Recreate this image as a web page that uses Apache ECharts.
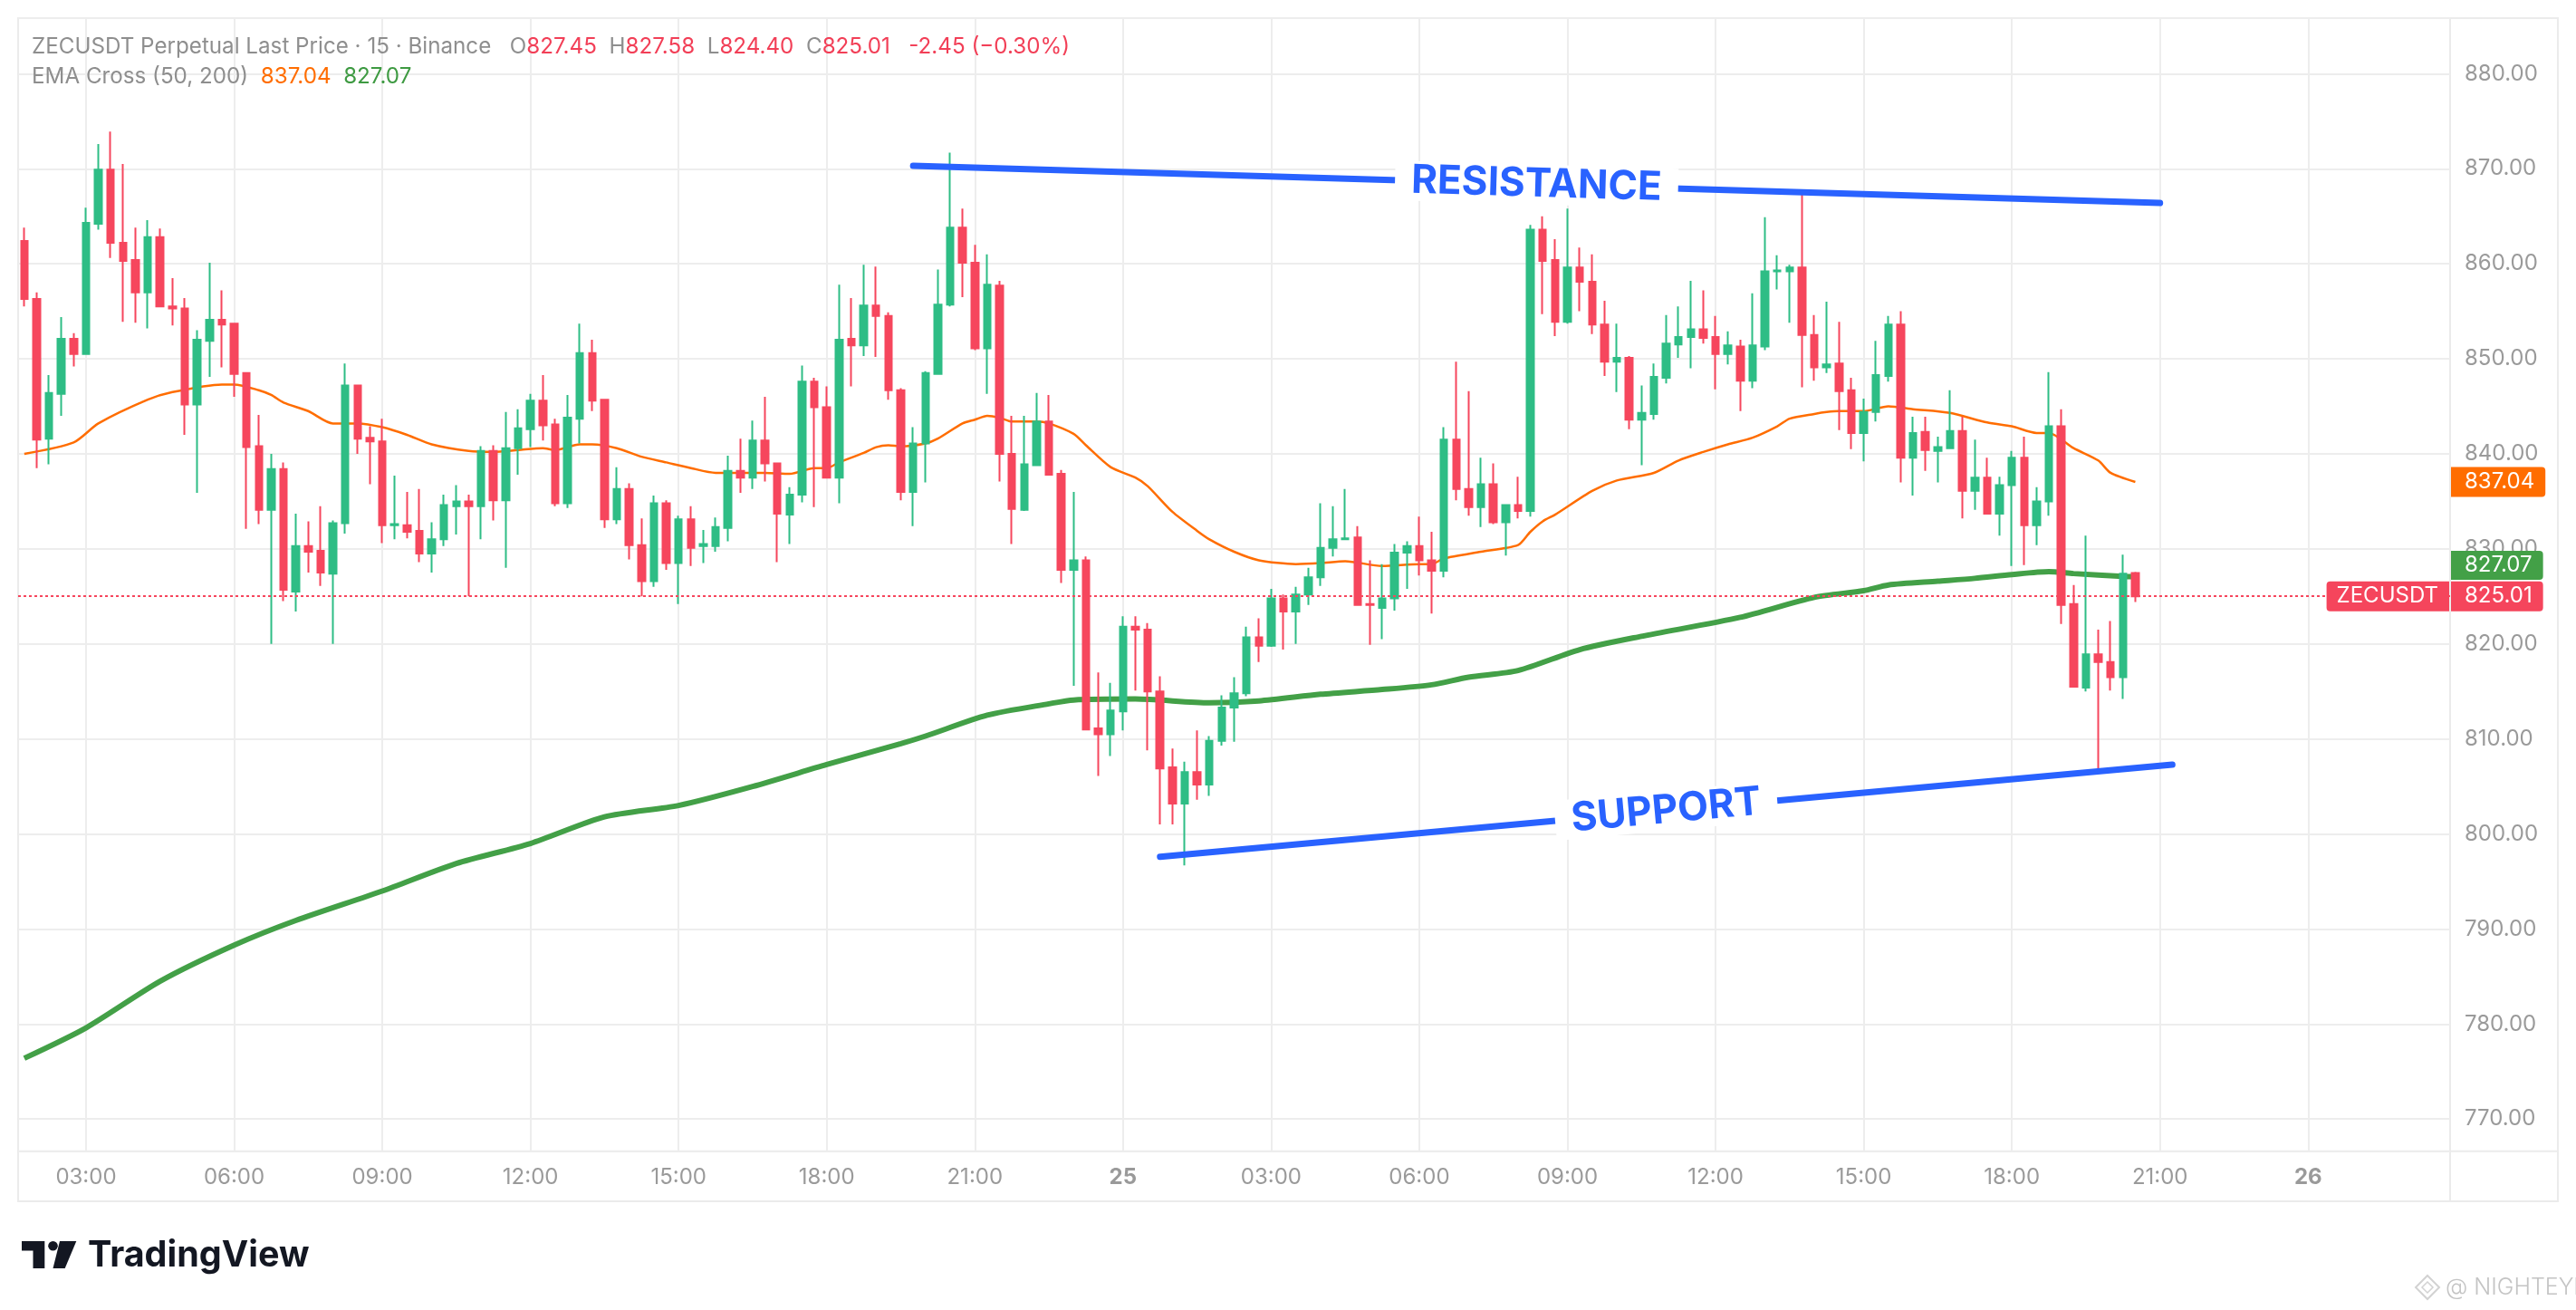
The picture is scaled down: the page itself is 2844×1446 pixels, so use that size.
<!DOCTYPE html>
<html>
<head>
<meta charset="utf-8">
<script src="https://cdn.jsdelivr.net/npm/echarts@6/dist/echarts.min.js"></script>
<style>
  html, body { margin: 0; padding: 0; background: #ffffff; }
  #chart { width: 2844px; height: 1446px; }
</style>
</head>
<body>
<div id="chart"></div>
<script>
// ---------- DATA (15-minute bars, 24 01:45 → 25 20:30) ----------
const open = [
  862.4,856.3,841.6,846.3,852.1,850.5,864.2,869.9,862.2,860.4,857.0,862.8,
  855.5,855.3,845.2,851.9,854.1,853.7,848.5,840.8,834.1,838.4,825.5,830.3,
  829.8,827.4,832.7,847.2,841.7,841.3,832.5,832.5,831.9,829.5,831.0,834.5,
  835.0,834.5,840.3,835.1,840.6,842.6,845.6,843.1,834.8,843.7,850.6,845.7,
  833.1,836.3,830.4,826.6,834.8,828.5,833.1,830.3,830.3,832.2,838.2,837.5,
  841.4,839.0,833.6,835.7,847.6,844.9,837.5,852.1,851.4,855.6,854.5,846.7,
  836.0,841.1,848.4,855.7,863.8,860.1,851.1,857.7,840.0,834.1,838.8,843.4,
  837.9,827.8,828.8,811.1,810.5,812.9,821.8,821.5,815.0,807.0,803.2,806.5,
  805.2,809.8,813.3,814.8,820.7,819.8,824.8,823.4,825.2,827.0,830.1,831.0,
  831.2,824.2,823.8,824.8,829.6,830.3,828.8,827.7,841.5,836.3,834.4,836.8,
  832.8,834.6,834.0,863.6,860.4,853.9,859.6,858.1,853.6,849.7,850.1,843.6,
  844.2,848.0,851.5,852.3,853.1,852.3,850.5,851.3,847.7,851.3,859.2,859.2,
  859.6,852.5,849.1,849.5,846.7,842.2,844.4,848.2,853.6,839.6,842.3,840.3,
  840.6,842.4,836.1,837.5,833.7,836.7,839.6,832.5,835.0,842.9,824.2,815.4,
  818.9,818.1,816.5,827.45
];
const high = [
  863.8,857.0,848.3,854.4,852.7,865.9,872.6,873.9,870.5,863.8,864.6,863.7,
  858.5,856.4,853.0,860.1,857.2,853.7,848.5,844.1,840.0,839.1,833.7,832.9,
  834.5,833.0,849.5,847.2,842.9,843.7,837.7,836.0,836.3,832.8,835.7,836.7,
  835.7,840.8,840.9,844.4,844.7,846.3,848.3,843.7,846.2,853.7,852.0,845.7,
  838.6,836.9,833.2,835.6,835.1,833.5,834.5,832.0,833.3,839.8,841.6,843.5,
  846.0,839.1,836.5,849.3,848.0,847.1,857.8,856.4,859.9,859.7,854.9,846.9,
  842.8,848.7,859.4,871.7,865.8,862.0,861.0,858.2,844.0,844.0,846.4,846.2,
  838.3,836.0,829.2,817.0,815.9,822.9,822.9,822.2,816.6,809.0,807.6,810.9,
  810.3,814.6,816.5,821.8,822.7,825.8,825.2,826.0,828.0,834.8,834.5,836.3,
  832.4,828.8,828.4,830.5,830.8,833.4,831.8,842.8,849.7,846.6,839.6,839.0,
  834.6,837.6,864.1,865.0,862.6,865.8,861.7,861.0,856.1,853.7,850.3,847.2,
  849.5,854.6,855.5,858.2,857.2,854.5,852.9,852.0,856.9,864.9,860.9,859.9,
  867.5,854.6,856.0,853.9,848.0,845.8,851.9,854.5,855.0,843.9,843.9,841.8,
  846.7,843.9,841.5,839.6,837.6,840.3,841.8,836.5,848.6,844.7,826.2,831.4,
  821.5,822.4,829.4,827.58
];
const low = [
  855.5,838.5,838.9,844.0,849.2,850.5,863.6,860.6,853.9,853.8,853.2,855.5,
  853.5,842.0,835.9,848.1,849.1,846.0,832.1,832.6,820.0,824.5,823.4,827.5,
  826.1,820.0,831.6,840.0,836.8,830.6,831.0,831.1,828.6,827.5,830.3,831.5,
  825.0,831.0,833.0,828.0,837.8,840.7,841.4,834.5,834.3,841.1,844.5,832.2,
  832.6,828.9,825.0,826.0,827.8,824.2,828.2,828.5,829.7,830.8,835.9,836.3,
  837.1,828.6,830.5,834.9,834.4,837.5,834.8,847.1,850.3,850.2,845.7,835.1,
  832.4,837.0,848.4,855.5,856.5,850.9,846.3,837.1,830.5,834.0,838.7,837.8,
  826.4,815.6,810.9,806.1,808.2,810.9,815.1,808.8,801.0,801.0,796.7,803.6,
  804.0,809.3,809.7,814.5,818.1,819.7,819.4,820.0,824.1,826.1,829.2,831.0,
  824.1,819.9,820.5,823.5,825.8,827.2,823.2,827.0,835.1,833.5,832.3,832.6,
  829.3,833.2,833.4,854.7,852.4,853.7,855.0,852.6,848.2,846.5,842.6,838.8,
  843.6,847.4,850.1,849.0,851.6,846.8,849.4,844.5,846.9,850.9,857.3,853.8,
  847.0,847.7,848.5,842.5,840.5,839.2,843.4,847.6,837.0,835.6,838.2,837.0,
  840.5,833.2,834.1,833.6,831.4,828.2,828.3,830.4,833.5,822.1,815.4,815.0,
  806.5,815.1,814.2,824.40
];
const close = [
  856.3,841.5,846.4,852.1,850.5,864.3,869.9,862.2,860.3,857.0,862.8,855.5,
  855.3,845.2,852.0,854.1,853.6,848.4,840.7,834.1,838.4,825.7,830.3,829.7,
  827.5,832.7,847.2,841.6,841.3,832.5,832.6,831.8,829.5,831.0,834.6,835.0,
  834.5,840.3,835.1,840.6,842.7,845.6,843.0,834.8,843.8,850.6,845.6,833.1,
  836.3,830.4,826.6,834.8,828.5,833.1,830.1,830.5,832.3,838.2,837.5,841.4,
  839.0,833.7,835.7,847.6,844.9,837.5,852.0,851.4,855.6,854.5,846.7,836.0,
  841.1,848.5,855.7,863.8,860.1,851.1,857.8,840.0,834.2,838.9,843.4,837.8,
  827.8,828.8,811.0,810.5,813.0,821.8,821.5,815.0,806.9,803.2,806.5,805.2,
  809.8,813.3,814.8,820.7,819.8,824.8,823.4,825.2,827.0,830.1,831.0,831.1,
  824.1,824.1,824.8,829.6,830.3,828.8,827.7,841.5,836.3,834.4,836.8,832.8,
  834.6,834.0,863.6,860.3,853.9,859.6,858.1,853.6,849.7,850.1,843.6,844.3,
  848.1,851.6,852.3,853.1,852.2,850.5,851.4,847.7,851.4,859.2,859.3,859.6,
  852.5,849.1,849.4,846.6,842.2,844.4,848.3,853.6,839.6,842.2,840.4,840.7,
  842.4,836.1,837.5,833.7,836.7,839.6,832.5,835.0,842.9,824.1,815.5,818.9,
  818.1,816.5,827.4,825.01
];

// EMA 50 (orange) read at bar indices
const ema50Idx = [0,4,6,10,12,16,17,19,20,21,23,25,27,29,31,33,36,38,40,42,43,45,46,48,50,52,54,56,58,60,62,64,65,66,68,69,70,71,73,74,76,77,78,79,80,82,83,85,86,88,90,91,93,95,96,98,100,103,105,107,110,113,114,115,118,121,122,123,124,127,129,132,134,136,138,140,142,143,145,146,147,149,151,153,156,159,161,163,164,166,168,169,171];
const ema50Val = [840.0,841.2,843.2,845.7,846.5,847.3,847.3,846.7,846.2,845.4,844.5,843.2,843.2,842.8,842.0,841.0,840.3,840.2,840.4,840.6,840.4,841.0,841.0,840.6,839.7,839.1,838.5,838.0,838.0,838.0,837.9,838.5,838.5,839.1,840.1,840.7,840.9,840.8,841.1,841.6,843.2,843.6,844.0,843.8,843.4,843.4,843.2,842.1,840.9,838.6,837.5,836.6,833.9,831.9,831.0,829.7,828.8,828.4,828.5,828.7,828.2,828.4,828.4,829.0,829.7,830.4,831.8,832.9,833.6,836.1,837.2,838.0,839.3,840.2,841.0,841.7,842.9,843.7,844.2,844.4,844.5,844.5,845.0,844.7,844.3,843.3,842.9,842.2,842.2,840.6,839.3,838.0,837.04];

// EMA 200 (green) read at bar indices
const ema200Idx = [0,5,11,17,22,29,35,41,47,53,59,65,71,73,78,83,85,90,96,100,105,110,114,117,121,126,131,139,145,149,151,155,158,161,164,166,170,171];
const ema200Val = [776.4,779.6,784.5,788.3,790.9,794.0,796.9,799.0,801.8,803.0,805.0,807.3,809.5,810.3,812.5,813.7,814.1,814.2,813.8,814.0,814.7,815.2,815.7,816.5,817.2,819.4,820.8,822.8,824.9,825.6,826.2,826.6,826.9,827.3,827.6,827.4,827.1,827.07];

// Drawn trend lines (bar index, price)
const resistanceIdx = [72, 173];
const resistanceVal = [870.3, 866.4];
const supportIdx = [92, 174];
const supportVal = [797.6, 807.3];

// Header / texts
const symbolTitle = 'ZECUSDT Perpetual Last Price · 15 · Binance';
const changeText = '-2.45 (−0.30%)';
const indicatorTitle = 'EMA Cross (50, 200)';
const symbolTag = 'ZECUSDT';

// Time categories: 15-minute slots starting 24th 01:45 (plus empty future slots)
const startMinutes = 105;   // 01:45
const startDay = 24;
const slotCount = 197;
const categories = [];
for (let i = 0; i < slotCount; i++) {
  const m = startMinutes + 15 * i;
  const day = startDay + Math.floor(m / 1440);
  const mm = m % 1440;
  if (mm === 0) categories.push(String(day));
  else categories.push(String(Math.floor(mm / 60)).padStart(2, '0') + ':' + String(mm % 60).padStart(2, '0'));
}
const tickEvery = 12;      // 3 hours
const firstTick = 5;       // 03:00

// ---------- CHART ----------
const FONT = 'Inter, "Noto Sans", Roboto, sans-serif';
const UP = '#2EBD85', DOWN = '#F6465D';
const ORANGE = '#FF6D00', GREEN = '#43A047', BLUE = '#2962FF', RED_TAG = '#F5455C';
const GRIDC = '#EDEDED', AXISTXT = '#9A9A9A', HEADTXT = '#8E8E8E';
const HIDDEN = 'rgba(0,0,0,0)';

const candleData = open.map((o, i) => [o, close[i], low[i], high[i]]);
const ema50Data = ema50Idx.map((x, i) => [x, ema50Val[i]]);
const ema200Data = ema200Idx.map((x, i) => [x, ema200Val[i]]);
const last = close.length - 1;
const isTick = (idx) => idx >= firstTick && (idx - firstTick) % tickEvery === 0;
const lastEma50 = ema50Val[ema50Val.length - 1];
const lastEma200 = ema200Val[ema200Val.length - 1];

const tagLabel = (bg, radius) => ({
  show: true, color: '#fff', fontSize: 24, fontFamily: FONT, lineHeight: 25,
  backgroundColor: bg, padding: [4, 12, 4, 15], borderRadius: radius, opacity: 1
});

const HS = 24.2;
const richH = (color) => ({ color: color, fontSize: HS, fontFamily: FONT, lineHeight: 33, fontWeight: 'normal' });
const gapWide = '   ', gap = '  ';

const chart = echarts.init(document.getElementById('chart'), null, { renderer: 'canvas' });
const option = {
  animation: false,
  backgroundColor: '#ffffff',
  textStyle: { fontFamily: FONT },
  title: {
    left: 35, top: 35, padding: 0,
    text: '{g|' + symbolTitle + '}' + gapWide + '{g|O}{r|' + open[last].toFixed(2) + '}' + gap + '{g|H}{r|' + high[last].toFixed(2) +
          '}' + gap + '{g|L}{r|' + low[last].toFixed(2) + '}' + gap + '{g|C}{r|' + close[last].toFixed(2) + '}' + gapWide + '{r|' + changeText + '}\n' +
          '{g|' + indicatorTitle + '}' + gap + '{o|' + lastEma50.toFixed(2) + '}' + gap + '{e|' + lastEma200.toFixed(2) + '}',
    textStyle: {
      fontFamily: FONT, fontSize: HS, lineHeight: 33, fontWeight: 'normal',
      rich: { g: richH(HEADTXT), r: richH('#F23F57'), o: richH(ORANGE), e: richH('#3E9A42') }
    }
  },
  grid: { left: 20, right: 139, top: 20, bottom: 175.3, show: false },
  xAxis: {
    type: 'category', data: categories, boundaryGap: true,
    axisLine: { show: false }, axisTick: { show: false },
    axisLabel: {
      interval: (idx) => isTick(idx),
      formatter: (v) => /^\d+$/.test(v) ? '{d|' + v + '}' : v,
      color: AXISTXT, fontSize: 24, fontFamily: FONT, margin: 17,
      rich: { d: { color: AXISTXT, fontSize: 24, fontWeight: 'bold', fontFamily: FONT } }
    },
    splitLine: { show: true, interval: (idx) => isTick(idx), alignWithLabel: true, lineStyle: { color: GRIDC, width: 2 } }
  },
  yAxis: {
    type: 'value', position: 'right', min: 766.62, max: 885.85, splitNumber: 12,
    minInterval: 10, maxInterval: 10,
    axisLine: { show: false }, axisTick: { show: false },
    axisLabel: {
      formatter: (v) => v.toFixed(2), color: AXISTXT, fontSize: 24, fontFamily: FONT, margin: 16,
      showMinLabel: false, showMaxLabel: false
    },
    splitLine: { show: true, lineStyle: { color: GRIDC, width: 2 } }
  },
  graphic: [
    { type: 'rect', z: 0, silent: true, shape: { x: 20, y: 20, width: 2804, height: 1306 }, style: { fill: 'none', stroke: '#EBEBEB', lineWidth: 2 } },
    { type: 'line', z: 0, silent: true, shape: { x1: 2705, y1: 20, x2: 2705, y2: 1326 }, style: { stroke: '#EBEBEB', lineWidth: 2 } },
    { type: 'line', z: 0, silent: true, shape: { x1: 20, y1: 1270.7, x2: 2824, y2: 1270.7 }, style: { stroke: '#EBEBEB', lineWidth: 2 } },
    // TradingView logo
    { type: 'polygon', silent: true, shape: { points: [[24,1370],[49.3,1370],[49.3,1400],[36.5,1400],[36.5,1380.5],[24,1380.5]] }, style: { fill: '#131722' } },
    { type: 'circle', silent: true, shape: { cx: 58.5, cy: 1375.3, r: 5.3 }, style: { fill: '#131722' } },
    { type: 'polygon', silent: true, shape: { points: [[66,1370],[84.3,1370],[71.7,1400],[58.5,1400]] }, style: { fill: '#131722' } },
    { type: 'text', silent: true, x: 97, y: 1386, style: { text: 'TradingView', fill: '#131722', font: 'bold 39.5px ' + FONT, verticalAlign: 'middle', align: 'left' } },
    // watermark
    { type: 'polygon', silent: true, shape: { points: [[2680,1408],[2693,1421],[2680,1434],[2667,1421]] }, style: { fill: 'none', stroke: '#D2D2D2', lineWidth: 2 } },
    { type: 'polygon', silent: true, shape: { points: [[2680,1415],[2686,1421],[2680,1427],[2674,1421]] }, style: { fill: 'none', stroke: '#D2D2D2', lineWidth: 1.5 } },
    { type: 'text', silent: true, x: 2700, y: 1421, style: { text: '@ NIGHTEYE', fill: '#C4C4C4', font: '300 25px ' + FONT, verticalAlign: 'middle', align: 'left' } }
  ],
  series: [
    {
      name: 'EMA200', type: 'line', data: ema200Data, symbol: 'none', smooth: 0.25, z: 2,
      lineStyle: { color: GREEN, width: 6 }, silent: true
    },
    {
      name: 'EMA50', type: 'line', data: ema50Data, symbol: 'none', smooth: 0.25, z: 2,
      lineStyle: { color: ORANGE, width: 2.5 }, silent: true,
      markLine: {
        silent: true, symbol: ['none', 'none'], animation: false,
        lineStyle: { color: BLUE, width: 7, type: 'solid', cap: 'round' },
        label: {
          show: true, position: 'middle', formatter: '{b}', distance: 0, verticalAlign: 'middle',
          color: BLUE, fontSize: 44, fontWeight: 'bold', fontFamily: FONT,
          backgroundColor: '#ffffff', padding: [0, 18]
        },
        data: [
          [ { name: 'RESISTANCE', coord: [resistanceIdx[0], resistanceVal[0]] }, { name: 'RESISTANCE', coord: [resistanceIdx[1], resistanceVal[1]] } ],
          [ { name: 'SUPPORT', coord: [supportIdx[0], supportVal[0]] }, { name: 'SUPPORT', coord: [supportIdx[1], supportVal[1]] } ]
        ]
      }
    },
    {
      name: 'ZECUSDT', type: 'candlestick', data: candleData, barWidth: 8, z: 3,
      itemStyle: { color: UP, color0: DOWN, borderColor: UP, borderColor0: DOWN, borderWidth: 2 },
      markLine: {
        silent: true, symbol: ['none', 'none'], animation: false,
        data: [
          { name: 'last', yAxis: close[last], lineStyle: { color: DOWN, type: [3, 3], width: 2 },
            label: Object.assign(tagLabel(RED_TAG, [0, 4, 4, 0]), { position: 'end', distance: 1, formatter: close[last].toFixed(2), verticalAlign: 'middle' }) },
          { name: 'sym', yAxis: close[last], lineStyle: { color: HIDDEN, width: 0.01 },
            label: Object.assign(tagLabel(RED_TAG, [4, 0, 0, 4]), { position: 'insideEnd', distance: 1, formatter: symbolTag, padding: [4, 12, 4, 11], verticalAlign: 'middle' }) },
          { name: 'e50', yAxis: lastEma50, lineStyle: { color: HIDDEN, width: 0.01 },
            label: Object.assign(tagLabel(ORANGE, [0, 4, 4, 0]), { position: 'end', distance: 1, formatter: lastEma50.toFixed(2), verticalAlign: 'middle' }) },
          { name: 'e200', yAxis: lastEma200, lineStyle: { color: HIDDEN, width: 0.01 },
            label: { show: true, position: 'end', distance: 1, verticalAlign: 'middle', opacity: 1,
              formatter: '{t|' + lastEma200.toFixed(2) + '}\n{s| }',
              rich: {
                t: { color: '#fff', fontSize: 24, fontFamily: FONT, lineHeight: 25, backgroundColor: GREEN, padding: [4, 12, 4, 15], borderRadius: [0, 4, 4, 0] },
                s: { fontSize: 10, lineHeight: 25, height: 25, color: HIDDEN }
              } } }
        ]
      }
    }
  ]
};
chart.setOption(option);
</script>
</body>
</html>
